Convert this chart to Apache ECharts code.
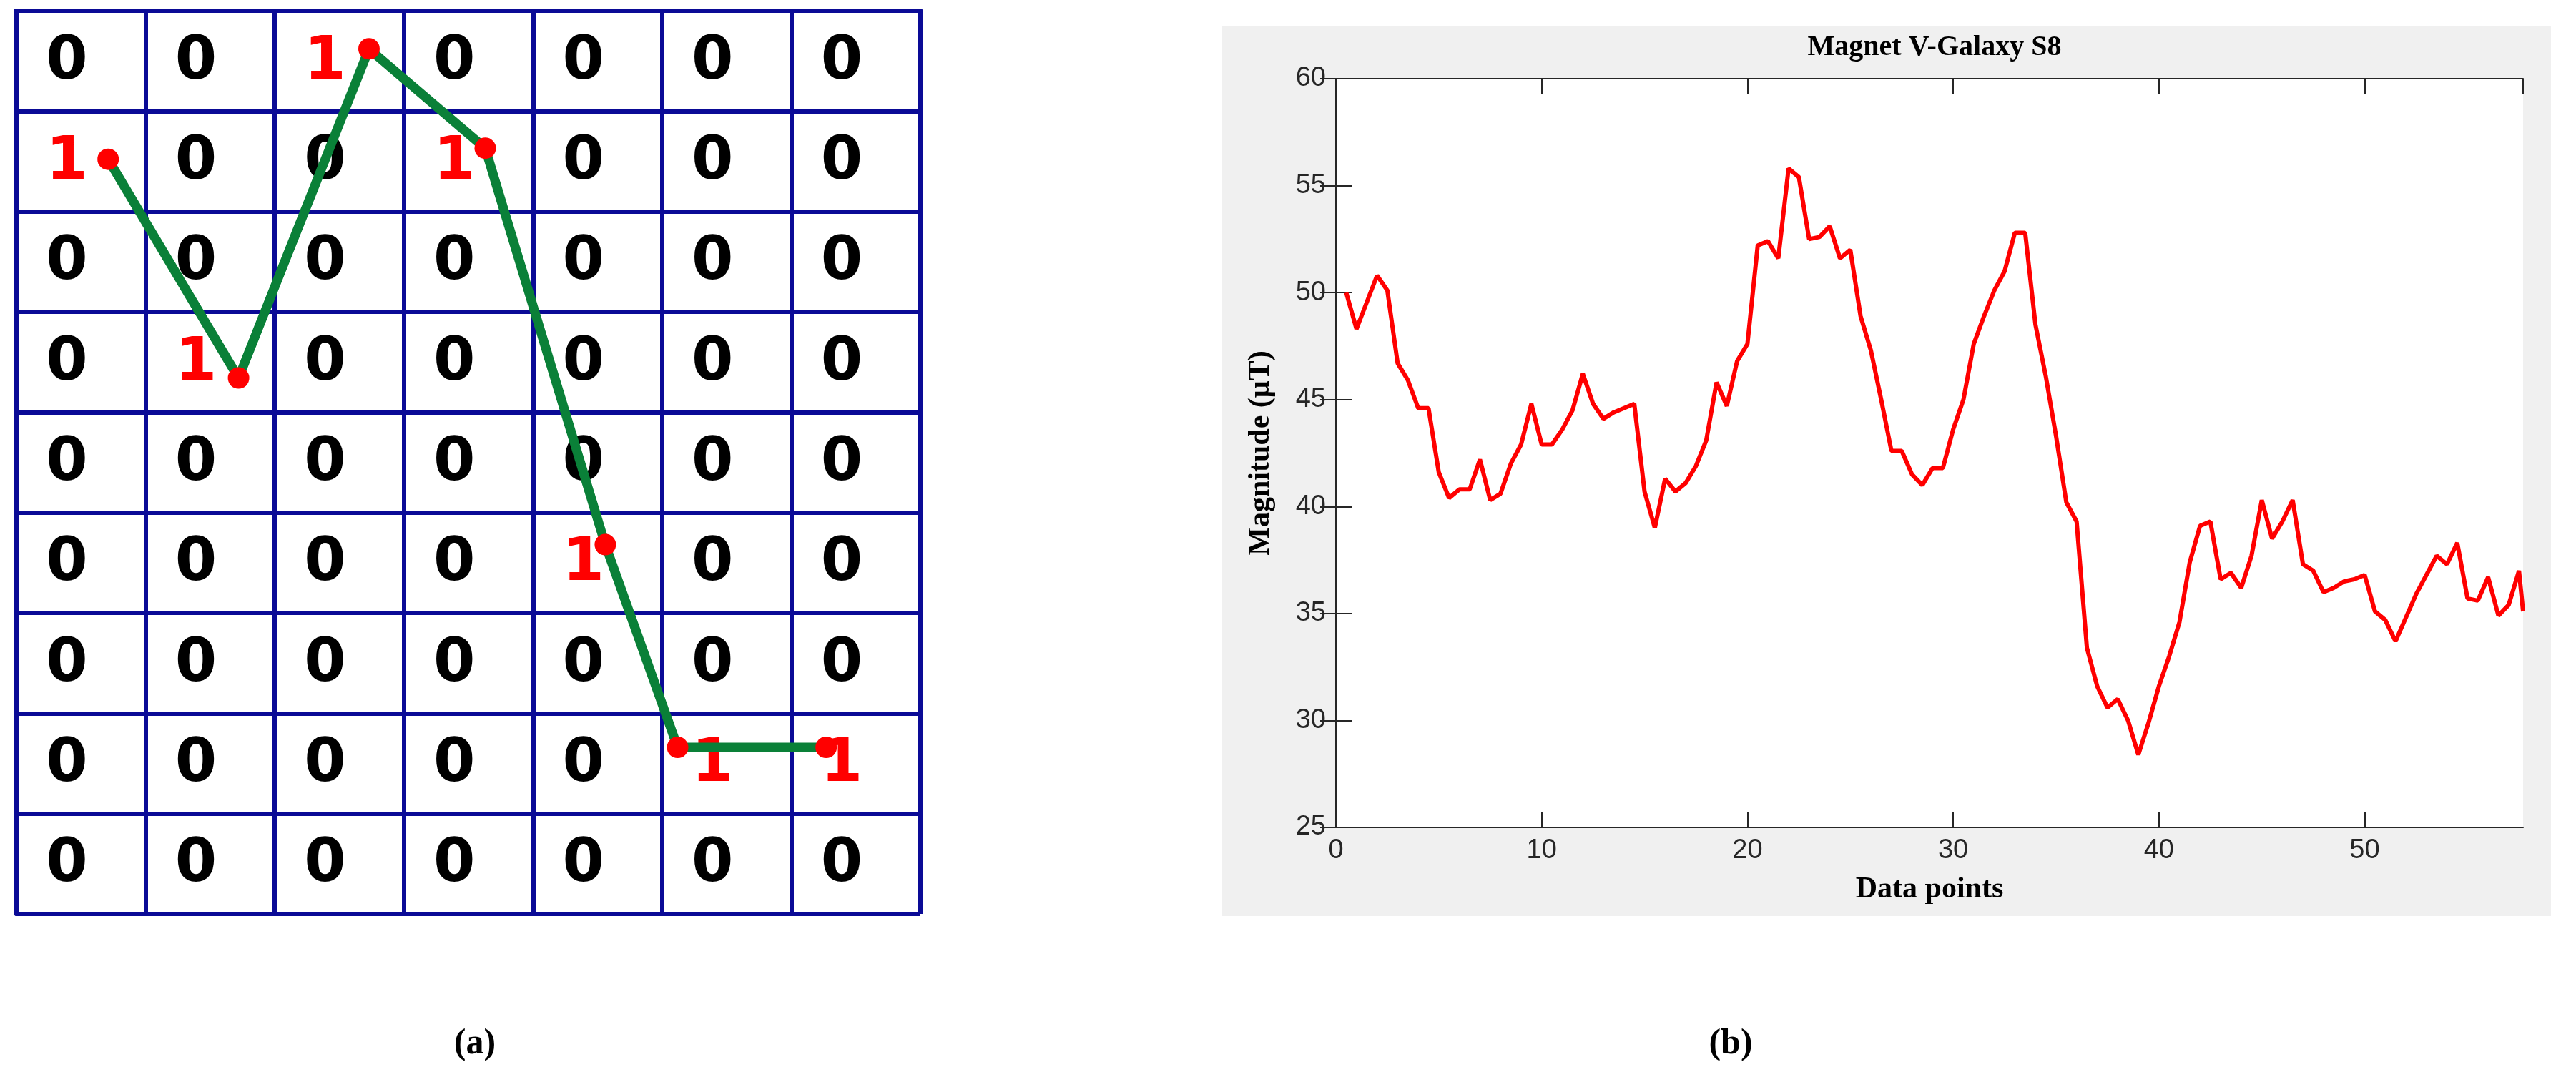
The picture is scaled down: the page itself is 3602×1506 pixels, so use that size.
<!DOCTYPE html>
<html><head><meta charset="utf-8">
<script src="https://cdn.jsdelivr.net/npm/echarts@6/dist/echarts.min.js"></script>
<style>html,body{margin:0;background:#fff}#c{width:3602px;height:1506px}</style>
</head><body><div id="c"></div>
<script>
// (a) grid: 7 columns x 9 rows, positions of the 1s [col,row]
const nCols = 7, nRows = 9;
const ones = [[0,1],[1,3],[2,0],[3,1],[4,5],[5,7],[6,7]];
// path points in cell units [x,y]
const pathPts = [[0.71,1.48],[1.72,3.66],[2.73,0.38],[3.63,1.37],[4.56,5.32],[5.12,7.34],[6.27,7.34]];

// (b) magnet magnitude
const xs = [0.5,1,2,2.5,3,3.5,4,4.5,5,5.5,6,6.5,7,7.5,8,8.5,9,9.5,10,10.5,11,11.5,12,12.5,13,13.5,14.5,15,15.5,16,16.5,17,17.5,18,18.5,19,19.5,20,20.5,21,21.5,22,22.5,23,23.5,24,24.5,25,25.5,26,26.5,27,27.5,28,28.5,29,29.5,30,30.5,31,31.5,32,32.5,33,33.5,34,34.5,35,35.5,36,36.5,37,37.5,38,38.5,39,39.5,40,40.5,41,41.5,42,42.5,43,43.5,44,44.5,45,45.5,46,46.5,47,47.5,48,48.5,49,49.5,50,50.5,51,51.5,52,52.5,53,53.5,54,54.5,55,55.5,56,56.5,57,57.5,57.7];
const ys = [50.0,48.3,50.8,50.1,46.7,45.9,44.6,44.6,41.6,40.4,40.8,40.8,42.2,40.3,40.6,42.0,42.9,44.8,42.9,42.9,43.6,44.5,46.2,44.8,44.1,44.4,44.8,40.7,39.0,41.3,40.7,41.1,41.9,43.1,45.8,44.7,46.8,47.6,52.2,52.4,51.6,55.8,55.4,52.5,52.6,53.1,51.6,52.0,48.9,47.3,45.0,42.6,42.6,41.5,41.0,41.8,41.8,43.6,45.0,47.6,48.9,50.1,51.0,52.8,52.8,48.5,46.1,43.3,40.2,39.3,33.4,31.6,30.6,31.0,30.0,28.4,29.9,31.6,33.0,34.6,37.4,39.1,39.3,36.6,36.9,36.2,37.7,40.3,38.5,39.3,40.3,37.3,37.0,36.0,36.2,36.5,36.6,36.8,35.1,34.7,33.7,34.8,35.9,36.8,37.7,37.3,38.3,35.7,35.6,36.7,34.9,35.4,37.0,35.1];

const zeroCells = [], oneCells = [];
for (let r = 0; r < nRows; r++) for (let c = 0; c < nCols; c++) {
  const one = ones.some(o => o[0] === c && o[1] === r);
  (one ? oneCells : zeroCells).push([c + 0.39, r + 0.52]);
}

const digitLabel = color => ({ show: true, position: 'inside', formatter: p => p.seriesName, color, opacity: 1,
  textBorderWidth: 0, fontFamily: 'DejaVu Sans', fontWeight: 'bold', fontSize: 84 });

const blue = '#0a0a96';
const chart = echarts.init(document.getElementById('c'));
chart.setOption({
  animation: false,
  graphic: [
    { type: 'rect', shape: { x: 1709, y: 37, width: 1858, height: 1244 }, style: { fill: '#f0f0f0' }, z: -10 },
    { type: 'text', x: 664, y: 1460, style: { text: '(a)', font: 'bold 50px "Liberation Serif"', fill: '#000', align: 'center', verticalAlign: 'middle' } },
    { type: 'text', x: 2420, y: 1460, style: { text: '(b)', font: 'bold 50px "Liberation Serif"', fill: '#000', align: 'center', verticalAlign: 'middle' } }
  ],
  title: { text: 'Magnet V-Galaxy S8', left: 2700, top: 42, textAlign: 'center',
    textStyle: { fontFamily: 'Liberation Serif', fontWeight: 'bold', fontSize: 40, color: '#000' } },
  grid: [
    { left: 23, top: 15, width: 1264, height: 1263 },
    { left: 1868, top: 110, width: 1660, height: 1047, backgroundColor: '#fff', show: true, borderWidth: 0 }
  ],
  xAxis: [
    { gridIndex: 0, type: 'value', min: 0, max: nCols, interval: 1,
      axisLine: { show: true, lineStyle: { color: blue, width: 6 } }, axisTick: { show: false }, axisLabel: { show: false },
      splitLine: { show: true, lineStyle: { color: blue, width: 6 } } },
    { gridIndex: 0, type: 'value', min: 0, max: nCols, position: 'top', axisLine: { show: true, lineStyle: { color: blue, width: 6 } },
      axisTick: { show: false }, axisLabel: { show: false }, splitLine: { show: false } },
    { gridIndex: 1, type: 'value', min: 0, max: 57.7, interval: 10, name: 'Data points', nameLocation: 'middle', nameGap: 66,
      nameTextStyle: { fontFamily: 'Liberation Serif', fontWeight: 'bold', fontSize: 42, color: '#000' },
      axisLine: { onZero: false, lineStyle: { color: '#262626', width: 2 } },
      axisTick: { inside: true, length: 22, lineStyle: { color: '#262626', width: 2 } },
      axisLabel: { fontFamily: 'Liberation Sans', fontSize: 38, color: '#262626', margin: 14, showMaxLabel: false },
      splitLine: { show: false } },
    { gridIndex: 1, type: 'value', min: 0, max: 57.7, interval: 10, position: 'top',
      axisLine: { lineStyle: { color: '#262626', width: 2 } },
      axisTick: { inside: true, length: 22, lineStyle: { color: '#262626', width: 2 } },
      axisLabel: { show: false }, splitLine: { show: false } }
  ],
  yAxis: [
    { gridIndex: 0, type: 'value', min: 0, max: nRows, interval: 1, inverse: true,
      axisLine: { show: true, lineStyle: { color: blue, width: 6 } }, axisTick: { show: false }, axisLabel: { show: false },
      splitLine: { show: true, lineStyle: { color: blue, width: 6 } } },
    { gridIndex: 0, type: 'value', min: 0, max: nRows, inverse: true, position: 'right',
      axisLine: { show: true, lineStyle: { color: blue, width: 6 } }, axisTick: { show: false }, axisLabel: { show: false }, splitLine: { show: false } },
    { gridIndex: 1, type: 'value', min: 25, max: 60, interval: 5, name: 'Magnitude (\u03bcT)', nameLocation: 'middle', nameGap: 84,
      nameTextStyle: { fontFamily: 'Liberation Serif', fontWeight: 'bold', fontSize: 42, color: '#000' },
      axisLine: { show: true, lineStyle: { color: '#262626', width: 2 } },
      axisTick: { inside: true, length: 22, lineStyle: { color: '#262626', width: 2 } },
      axisLabel: { fontFamily: 'Liberation Sans', fontSize: 38, color: '#262626', margin: 14 },
      splitLine: { show: false } },
    { gridIndex: 1, type: 'value', min: 25, max: 60, interval: 5, position: 'right',
      axisLine: { show: true, lineStyle: { color: '#262626', width: 2 } },
      axisTick: { inside: true, length: 22, lineStyle: { color: '#262626', width: 2 } },
      axisLabel: { show: false }, splitLine: { show: false } }
  ],
  series: [
    { type: 'scatter', name: '0', xAxisIndex: 0, yAxisIndex: 0, symbolSize: 1, itemStyle: { opacity: 0 },
      data: zeroCells, label: digitLabel('#000000'), emphasis: { disabled: true } },
    { type: 'scatter', name: '1', xAxisIndex: 0, yAxisIndex: 0, symbolSize: 1, itemStyle: { opacity: 0 },
      data: oneCells, label: digitLabel('#ff0000'), emphasis: { disabled: true } },
    { type: 'line', xAxisIndex: 0, yAxisIndex: 0, data: pathPts, symbol: 'circle', symbolSize: 30,
      lineStyle: { color: '#0a8038', width: 13 }, itemStyle: { color: '#ff0000' }, z: 5 },
    { type: 'line', xAxisIndex: 2, yAxisIndex: 2, data: xs.map((x, i) => [x, ys[i]]), showSymbol: false,
      lineStyle: { color: '#ff0000', width: 6 }, clip: true }
  ]
});
</script></body></html>
